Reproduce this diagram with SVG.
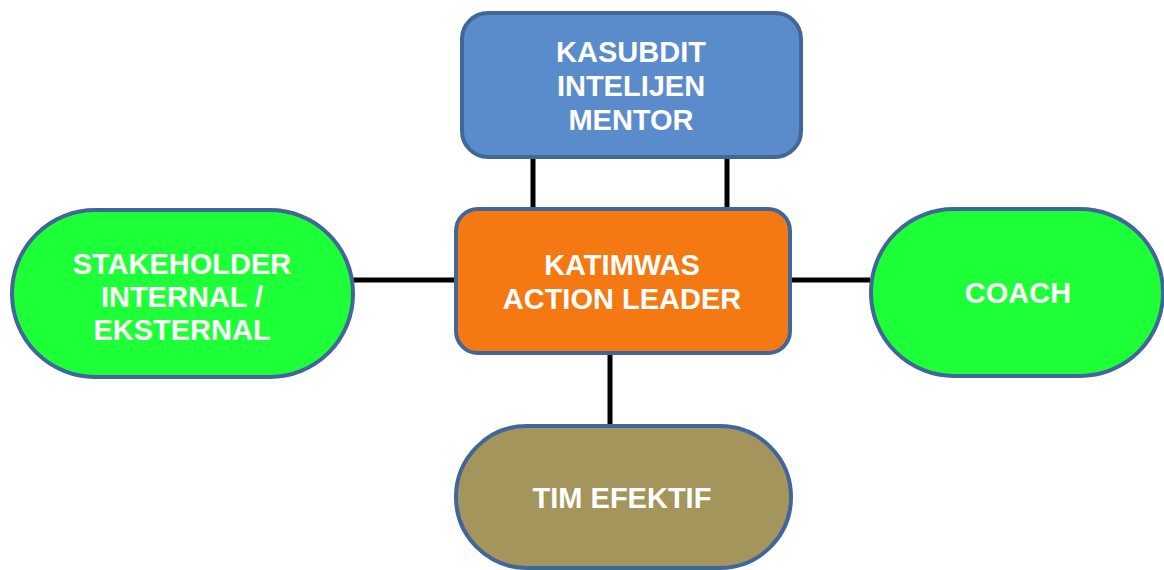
<svg xmlns="http://www.w3.org/2000/svg" width="1164" height="570" viewBox="0 0 1164 570">
  <style>
    .shape { stroke: #41679a; stroke-width: 4; }
    .blue { fill: #5a8bcb; }
    .orange { fill: #f47913; }
    .green { fill: #1dff36; }
    .olive { fill: #a3955c; }
    .label { font-family: "Liberation Sans", Arial, sans-serif; font-weight: bold; font-size: 29px; fill: #ffffff; text-anchor: middle; }
    .link { stroke: #000000; stroke-width: 5; fill: none; }
  </style>
  <rect width="1164" height="570" fill="#ffffff"/>

  <g id="connectors">
    <line class="link" x1="533" y1="156" x2="533" y2="210"/>
    <line class="link" x1="727" y1="156" x2="727" y2="210"/>
    <line class="link" x1="353" y1="280" x2="456" y2="280"/>
    <line class="link" x1="790" y1="280" x2="870" y2="280"/>
    <line class="link" x1="610" y1="352" x2="610" y2="426"/>
  </g>

  <g id="mentor">
    <rect class="shape blue" x="462" y="13" width="339" height="144" rx="26"/>
    <text class="label" x="631" y="62">KASUBDIT</text>
    <text class="label" x="631" y="96">INTELIJEN</text>
    <text class="label" x="631" y="130">MENTOR</text>
  </g>

  <g id="action-leader">
    <rect class="shape orange" x="456" y="209" width="334" height="144" rx="22"/>
    <text class="label" x="622" y="275">KATIMWAS</text>
    <text class="label" x="622" y="309">ACTION LEADER</text>
  </g>

  <g id="stakeholder">
    <rect class="shape green" x="12" y="210" width="341" height="167" rx="83"/>
    <text class="label" x="182" y="274">STAKEHOLDER</text>
    <text class="label" x="182" y="307">INTERNAL /</text>
    <text class="label" x="182" y="340">EKSTERNAL</text>
  </g>

  <g id="coach">
    <rect class="shape green" x="871" y="209" width="292" height="167" rx="83"/>
    <text class="label" x="1018" y="303">COACH</text>
  </g>

  <g id="tim-efektif">
    <rect class="shape olive" x="456" y="426" width="335" height="142" rx="71"/>
    <text class="label" x="622" y="508">TIM EFEKTIF</text>
  </g>
</svg>
